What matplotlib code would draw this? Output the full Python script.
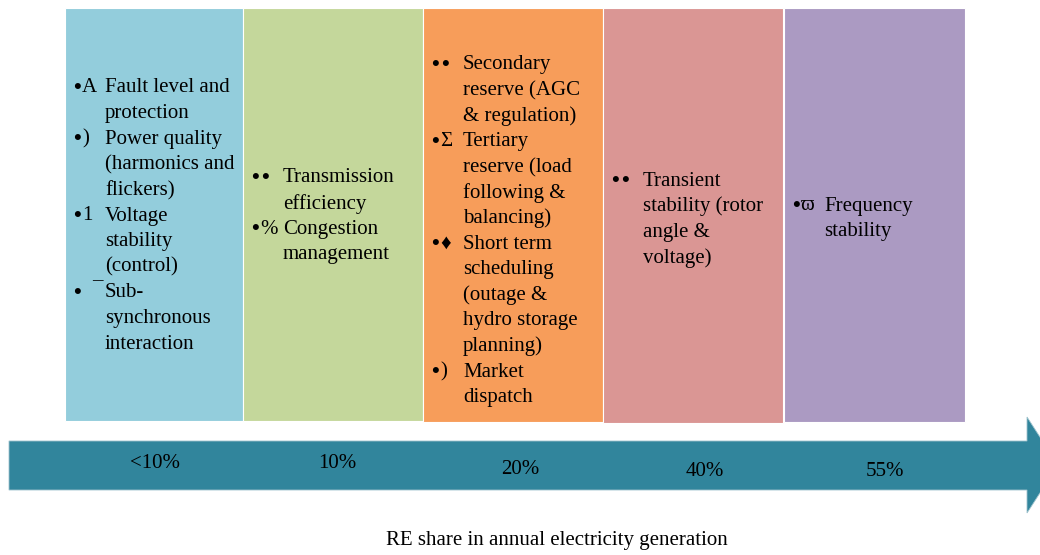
"""Grid challenges by RE share: five coloured columns over a share arrow."""

import matplotlib

matplotlib.use("Agg")

import matplotlib.pyplot as plt
from matplotlib.patches import Polygon

plt.rcParams["font.family"] = "serif"
plt.rcParams["font.serif"] = ["Liberation Serif", "DejaVu Serif"]

# RE share stages along the arrow
shares = ["<10%", "10%", "20%", "40%", "55%"]
share_label_pos = [(155, 463), (337, 463), (520, 469), (705, 471), (885, 471)]

# column colours
colors = ["#93CDDC", "#C4D79B", "#F79D5A", "#DA9694", "#AB9AC2"]

# column extents (left, right, bottom) in pixels
col_left = [65, 243, 423, 603, 784]
col_right = [243, 423, 603, 783, 965]
col_bottom = [421, 421, 422, 423, 422]
col_top = 8

# items per column: (glyph after the bullet dot, wrapped lines)
items_lt10 = [
    ("A", ["Fault level and", "protection"]),
    (")", ["Power quality", "(harmonics and", "flickers)"]),
    ("1", ["Voltage", "stability", "(control)"]),
    ("", ["Sub-", "synchronous", "interaction"]),
]
items_10 = [
    ("\u2022", ["Transmission", "efficiency"]),
    ("%", ["Congestion", "management"]),
]
items_20 = [
    ("\u2022", ["Secondary", "reserve (AGC", "& regulation)"]),
    ("\u03a3", ["Tertiary", "reserve (load", "following &", "balancing)"]),
    ("\u2666", ["Short term", "scheduling", "(outage &", "hydro storage", "planning)"]),
    (")", ["Market", "dispatch"]),
]
items_40 = [
    ("\u2022", ["Transient", "stability (rotor", "angle &", "voltage)"]),
]
items_55 = [
    ("\u03d6", ["Frequency", "stability"]),
]
columns = [items_lt10, items_10, items_20, items_40, items_55]
first_line_y = [88, 178, 65, 181, 206]

axis_title = "RE share in annual electricity generation"

LINE_STEP = 25.6
FS = 15

fig = plt.figure(figsize=(10.4, 5.55), dpi=100)
ax = fig.add_axes([0, 0, 1, 1])
ax.set_xlim(0, 1040)
ax.set_ylim(555, 0)
ax.axis("off")

# columns
for left, right, bottom, color in zip(col_left, col_right, col_bottom, colors):
    ax.bar(left, bottom - col_top, width=right - left, bottom=col_top,
           align="edge", color=color, edgecolor="white", linewidth=0.8)

# column text
for left, items, y0 in zip(col_left, columns, first_line_y):
    y = y0
    for glyph, lines in items:
        ax.text(left + 8, y, "\u2022", fontsize=FS + 1, va="center", ha="left",
                weight="bold")
        if glyph == "\u2022":
            ax.text(left + 18, y, glyph, fontsize=FS + 1, va="center",
                    ha="left", weight="bold")
        elif glyph:
            ax.text(left + 17, y, glyph, fontsize=FS, va="center", ha="left")
        for line in lines:
            ax.text(left + 40, y, line, fontsize=FS, va="center", ha="left")
            y += LINE_STEP

# stray underscore glyph from the original rendering
ax.text(92, 274, "_", fontsize=FS, va="center", ha="left")

# arrow
body_top, body_bot = 441, 490
head_x, head_top, head_bot, tip_x = 1027, 417, 513, 1058
arrow = Polygon(
    [(9, body_top), (head_x, body_top), (head_x, head_top), (tip_x, 465),
     (head_x, head_bot), (head_x, body_bot), (9, body_bot)],
    closed=True, facecolor="#31859C", edgecolor="#9FC3CD", linewidth=0.6,
)
ax.add_patch(arrow)

for label, (x, y) in zip(shares, share_label_pos):
    ax.text(x, y, label, fontsize=FS, ha="center", va="center")

ax.text(557, 541, axis_title, fontsize=FS, ha="center", va="center")

fig.savefig("out.png", dpi=100, facecolor="white")
